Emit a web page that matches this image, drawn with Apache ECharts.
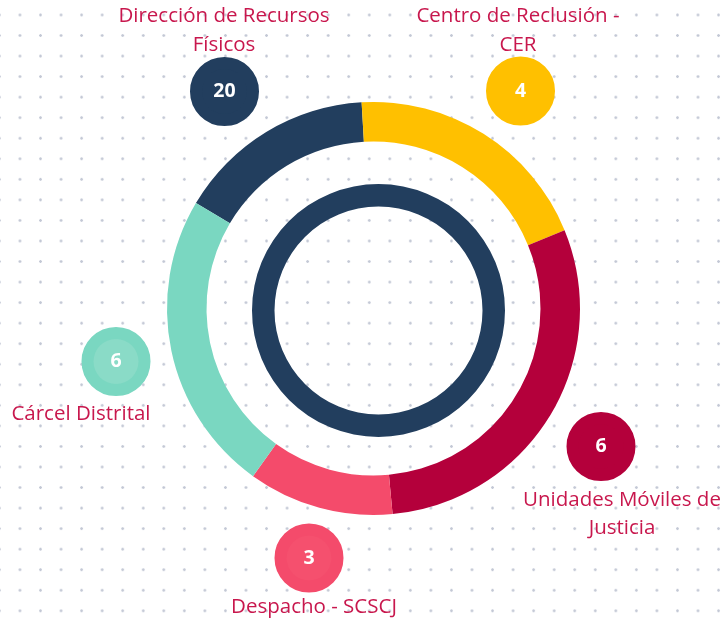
<!DOCTYPE html>
<html>
<head>
<meta charset="utf-8">
<script src="https://cdn.jsdelivr.net/npm/echarts@6/dist/echarts.min.js"></script>
<style>
  html, body { margin: 0; padding: 0; background: #fff; }
  #chart {
    width: 724px;
    height: 621px;
    background-color: #fff;
    background-image: radial-gradient(circle, #c3c8d5 1px, rgba(255, 255, 255, 0) 1.6px);
    background-size: 20.55px 20.55px;
    background-position: 9.7px 4.7px;
  }
</style>
</head>
<body>
<div id="chart"></div>
<script>
  // data
  var categories = [
    "Dirección de Recursos\nFísicos",
    "Centro de Reclusión -\nCER",
    "Unidades Móviles de\nJusticia",
    "Despacho - SCSCJ",
    "Cárcel Distrital",
  ];
  var counts = [20, 4, 6, 3, 6];
  // arc size of each segment as drawn in the ring (degrees)
  var arcShares = [56, 71, 107, 41, 85];

  // styles / layout
  var colors = ["#223E5E", "#FFC000", "#B4003B", "#F44B6B", "#7AD7C1"];
  var bubbleFill = ["#223E5E", "#FFC000", "#B4003B", "#F5506E", "#8ADBC7"];
  var bubbleSpots = [
    [224.5, 91.5],
    [520.5, 91],
    [601, 446.5],
    [309, 558],
    [116, 361.5],
  ];
  var nameSpots = [
    { x: 224, y: 30.5, align: "center" },
    { x: 518, y: 30.5, align: "center" },
    { x: 622, y: 514, align: "center" },
    { x: 314, y: 607.5, align: "center" },
    { x: 150.5, y: 414.5, align: "right" },
  ];

  var ringCenter = [373.5, 308.5];
  var ringRadius = [167, 206.5];
  var startAngle = 149.3;

  var chart = echarts.init(document.getElementById("chart"));

  chart.setOption({
    backgroundColor: "transparent",
    animation: false,
    series: [
      // inner decorative ring
      {
        type: "pie",
        silent: true,
        center: [378.5, 310.5],
        radius: [104, 126.5],
        label: { show: false },
        labelLine: { show: false },
        data: [{ value: 1, itemStyle: { color: "#223E5E" } }],
      },
      // category names (invisible arcs, labels only)
      {
        type: "pie",
        silent: true,
        center: ringCenter,
        radius: ringRadius,
        startAngle: startAngle,
        avoidLabelOverlap: false,
        itemStyle: { color: "rgba(0,0,0,0)" },
        label: {
          show: true,
          position: "outside",
          formatter: "{b}",
          color: "#C8174D",
          fontFamily: "Open Sans",
          fontSize: 20.5,
          lineHeight: 28.5,
        },
        labelLine: { show: false },
        labelLayout: function (p) {
          var s = nameSpots[p.dataIndex];
          return { x: s.x, y: s.y, align: s.align, verticalAlign: "middle" };
        },
        data: categories.map(function (name, i) {
          return { name: name, value: arcShares[i] };
        }),
      },
      // main ring with count bubbles
      {
        type: "pie",
        silent: true,
        center: ringCenter,
        radius: ringRadius,
        startAngle: startAngle,
        avoidLabelOverlap: false,
        label: {
          show: true,
          position: "outside",
          formatter: function (p) {
            return String(counts[p.dataIndex]);
          },
          color: "#fff",
          fontFamily: "Open Sans",
          fontSize: 19.5,
          fontWeight: "bold",
          width: 45,
          height: 45,
          lineHeight: 45,
          align: "center",
          verticalAlign: "middle",
          borderRadius: 22.5,
          borderWidth: 12,
        },
        labelLine: { show: false },
        labelLayout: function (p) {
          var s = bubbleSpots[p.dataIndex];
          return { x: s[0], y: s[1], align: "center", verticalAlign: "middle" };
        },
        data: categories.map(function (name, i) {
          return {
            name: name,
            value: arcShares[i],
            itemStyle: { color: colors[i] },
            label: { backgroundColor: bubbleFill[i], borderColor: colors[i] },
          };
        }),
      },
    ],
  });

  window.addEventListener("resize", function () {
    chart.resize();
  });
</script>
</body>
</html>
